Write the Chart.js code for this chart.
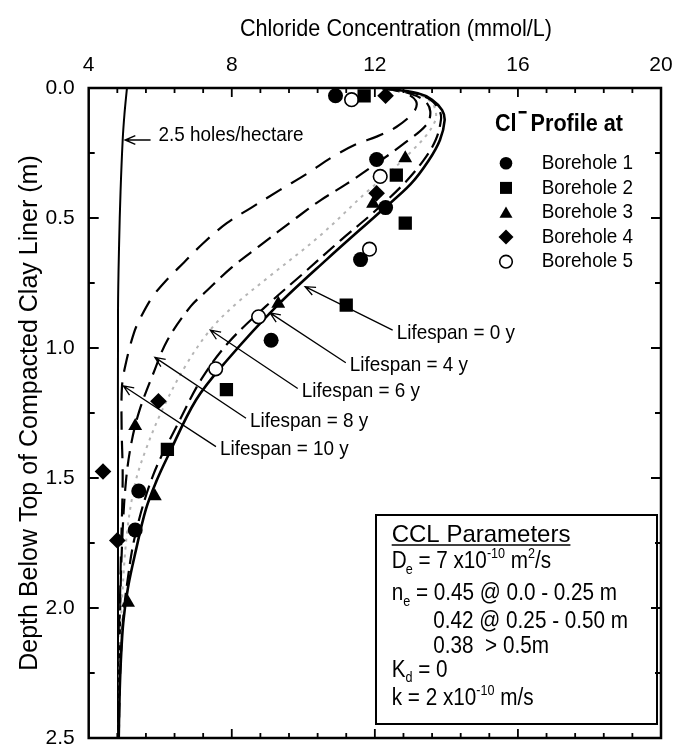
<!DOCTYPE html>
<html>
<head>
<meta charset="utf-8">
<script src="https://cdn.jsdelivr.net/npm/chart.js@4"></script>
<style>
  html, body { margin: 0; padding: 0; background: #fff; }
</style>
</head>
<body>
<canvas id="chart" width="675" height="750"></canvas>
<script>
// Chloride profiles below a compacted clay liner
// Measured values per borehole: [concentration mmol/L, depth m]
const borehole1 = [[10.9, 0.03], [12.05, 0.275], [12.3, 0.46], [11.6, 0.66], [9.1, 0.97], [5.4, 1.55], [5.3, 1.70]];
const borehole2 = [[11.7, 0.03], [12.6, 0.335], [12.85, 0.52], [11.2, 0.835], [7.85, 1.16], [6.2, 1.39]];
const borehole3 = [[12.85, 0.27], [11.95, 0.445], [9.3, 0.83], [5.3, 1.30], [5.85, 1.57], [5.1, 1.98]];
const borehole4 = [[12.3, 0.03], [12.05, 0.405], [5.95, 1.205], [4.4, 1.475], [4.8, 1.74]];
const borehole5 = [[11.35, 0.045], [12.15, 0.34], [11.85, 0.62], [8.75, 0.88], [7.55, 1.08]];

// Modelled profiles: [concentration mmol/L, depth m]
const lifespan0 = [[12.2, 0], [13.2, 0.02], [13.6, 0.045], [13.88, 0.085], [13.95, 0.125], [13.82, 0.2], [13.5, 0.28], [13.0, 0.37], [12.2, 0.47], [10.65, 0.66], [9.25, 0.84], [7.85, 1.05], [7.0, 1.2], [6.2, 1.42], [5.9, 1.51], [5.6, 1.62], [5.3, 1.79], [5.1, 1.92], [4.97, 2.05], [4.9, 2.2], [4.86, 2.35], [4.84, 2.5]];
const lifespan4 = [[12.2, 0], [13.1, 0.02], [13.55, 0.045], [13.8, 0.085], [13.85, 0.12], [13.7, 0.2], [13.35, 0.28], [12.8, 0.37], [11.95, 0.48], [11.05, 0.585], [9.9, 0.725], [8.95, 0.84], [7.9, 0.98], [7.15, 1.12], [6.5, 1.29], [5.8, 1.49], [5.3, 1.72], [5.06, 1.92], [4.96, 2.05], [4.88, 2.25], [4.84, 2.5]];
const lifespan6 = [[12.2, 0], [13.1, 0.02], [13.5, 0.045], [13.67, 0.075], [13.7, 0.12], [13.45, 0.18], [13.05, 0.24], [12.45, 0.32], [11.77, 0.4], [10.45, 0.57], [9.05, 0.725], [8.12, 0.83], [7.4, 0.93], [6.7, 1.07], [6.05, 1.24], [5.6, 1.39], [5.3, 1.52], [5.08, 1.7], [4.94, 1.95], [4.87, 2.2], [4.84, 2.5]];
const lifespan8 = [[12.2, 0], [12.95, 0.02], [13.4, 0.05], [13.55, 0.09], [13.45, 0.14], [12.8, 0.215], [12.05, 0.29], [11.2, 0.37], [10.5, 0.43], [9.8, 0.5], [8.75, 0.61], [8.0, 0.69], [7.3, 0.78], [6.85, 0.84], [6.2, 0.97], [5.8, 1.1], [5.42, 1.24], [5.2, 1.36], [5.05, 1.5], [4.95, 1.7], [4.88, 2.0], [4.84, 2.5]];
const lifespan10 = [[12.2, 0], [12.85, 0.02], [13.15, 0.05], [13.1, 0.09], [12.6, 0.15], [12.05, 0.187], [11.5, 0.215], [10.83, 0.264], [10.1, 0.33], [9.35, 0.392], [8.55, 0.46], [7.86, 0.52], [7.2, 0.597], [6.67, 0.67], [6.18, 0.738], [5.8, 0.8], [5.5, 0.87], [5.27, 0.94], [5.02, 1.07], [4.93, 1.15], [4.92, 1.3], [4.95, 1.5], [4.9, 1.8], [4.86, 2.1], [4.83, 2.5]];
const holes25 = [[5.07, 0], [5.0, 0.1], [4.95, 0.2], [4.89, 0.4], [4.85, 0.6], [4.82, 0.85], [4.82, 1.5], [4.82, 2.5]];

// Axis ticks
const xTicks = [4, 8, 12, 16, 20];
const yTicks = [0, 0.5, 1.0, 1.5, 2.0, 2.5];

// Curve labels: text, where text starts (conc, depth), where arrow points (conc, depth)
const curveLabels = [
  { text: 'Lifespan = 0 y', at: [12.61, 0.943], tip: [10.05, 0.764] },
  { text: 'Lifespan = 4 y', at: [11.30, 1.068], tip: [9.07, 0.865] },
  { text: 'Lifespan = 6 y', at: [9.955, 1.167], tip: [7.40, 0.931] },
  { text: 'Lifespan = 8 y', at: [8.51, 1.282], tip: [5.85, 1.036] },
  { text: 'Lifespan = 10 y', at: [7.67, 1.391], tip: [4.97, 1.146] },
];

const FONT = '"Liberation Sans", Arial, Helvetica, sans-serif';
const SQUEEZE = 0.9; // the source lettering is a bit narrow
Chart.defaults.font.family = FONT;
Chart.defaults.color = '#000';

const xy = arr => arr.map(([x, y]) => ({ x, y }));

const markerSets = [
  { label: 'Borehole 1', data: borehole1, style: 'circle', r: 7.5, fill: '#000' },
  { label: 'Borehole 2', data: borehole2, style: 'rect', r: 9.4, fill: '#000' },
  { label: 'Borehole 3', data: borehole3, style: 'triangle', r: 8, fill: '#000' },
  { label: 'Borehole 4', data: borehole4, style: 'rectRot', r: 8.3, fill: '#000' },
  { label: 'Borehole 5', data: borehole5, style: 'circle', r: 6.8, fill: '#fff' },
];

const lineSets = [
  { label: '0 y', data: lifespan0, width: 2.6, dash: [], color: '#000' },
  { label: '4 y', data: lifespan4, width: 2.2, dash: [15, 7], color: '#000' },
  { label: '6 y', data: lifespan6, width: 2, dash: [3, 5], color: '#b5b5b5' },
  { label: '8 y', data: lifespan8, width: 2.2, dash: [16, 8], color: '#000' },
  { label: '10 y', data: lifespan10, width: 2.2, dash: [18, 11], color: '#000' },
  { label: '2.5 holes/hectare', data: holes25, width: 2, dash: [], color: '#000' },
];

const datasets = [
  ...markerSets.map(m => ({
    label: m.label,
    data: xy(m.data),
    pointStyle: m.style,
    pointRadius: m.r,
    backgroundColor: m.fill,
    borderColor: '#000',
    borderWidth: m.fill === '#fff' ? 1.6 : 0,
    showLine: false,
    order: 0,
  })),
  ...lineSets.map(l => ({
    label: l.label,
    data: xy(l.data),
    showLine: true,
    pointRadius: 0,
    borderColor: l.color,
    borderWidth: l.width,
    borderDash: l.dash,
    tension: 0.35,
    fill: false,
    order: 1,
  })),
];

// small marker drawing for the legend
function marker(ctx, style, x, y, r, fill) {
  ctx.beginPath();
  if (style === 'circle') ctx.arc(x, y, r, 0, Math.PI * 2);
  else if (style === 'rect') ctx.rect(x - r * 0.707, y - r * 0.707, r * 1.414, r * 1.414);
  else if (style === 'triangle') {
    ctx.moveTo(x, y - r);
    ctx.lineTo(x + r * 0.866, y + r / 2);
    ctx.lineTo(x - r * 0.866, y + r / 2);
    ctx.closePath();
  } else if (style === 'rectRot') {
    ctx.moveTo(x, y - r); ctx.lineTo(x + r, y); ctx.lineTo(x, y + r); ctx.lineTo(x - r, y);
    ctx.closePath();
  }
  ctx.fillStyle = fill;
  ctx.fill();
  if (fill === '#fff') { ctx.lineWidth = 1.6; ctx.strokeStyle = '#000'; ctx.stroke(); }
}

// narrow text, returns drawn width
function say(ctx, str, x, y, size, bold, squeeze = SQUEEZE) {
  ctx.save();
  ctx.font = `${bold ? 'bold ' : ''}${size}px ${FONT}`;
  ctx.translate(x, y);
  ctx.scale(squeeze, 1);
  ctx.fillText(str, 0, 0);
  const w = ctx.measureText(str).width * squeeze;
  ctx.restore();
  return w;
}

// text with sub/superscripts
function rich(ctx, x, y, parts, size) {
  for (const p of parts) {
    const small = p.sub || p.sup;
    const dy = p.sub ? size * 0.25 : p.sup ? -size * 0.45 : 0;
    x += p.dx || 0;
    x += say(ctx, p.t, x, y + dy, small ? Math.round(size * 0.6) : size);
  }
}

function arrow(ctx, x0, y0, x1, y1) {
  ctx.beginPath();
  ctx.moveTo(x0, y0);
  ctx.lineTo(x1, y1);
  const a = Math.atan2(y1 - y0, x1 - x0), len = 11, spread = 0.4;
  ctx.moveTo(x1 - len * Math.cos(a - spread), y1 - len * Math.sin(a - spread));
  ctx.lineTo(x1, y1);
  ctx.lineTo(x1 - len * Math.cos(a + spread), y1 - len * Math.sin(a + spread));
  ctx.stroke();
}

const decor = {
  id: 'decor',
  afterDatasetsDraw(chart) {
    const { ctx, chartArea: a, scales: { x, y } } = chart;
    ctx.save();
    ctx.strokeStyle = '#000';
    ctx.fillStyle = '#000';

    // frame
    ctx.lineWidth = 2.5;
    ctx.strokeRect(a.left, a.top, a.right - a.left, a.bottom - a.top);

    // inward ticks
    ctx.lineWidth = 1.8;
    ctx.beginPath();
    for (let i = 1; i < 20; i++) {
      const px = x.getPixelForValue(4 + i * 0.8), len = i % 5 ? 5 : 9;
      ctx.moveTo(px, a.top); ctx.lineTo(px, a.top + len);
      ctx.moveTo(px, a.bottom); ctx.lineTo(px, a.bottom - len);
    }
    for (let i = 1; i < 10; i++) {
      const py = y.getPixelForValue(i * 0.25), len = i % 2 ? 6 : 10;
      ctx.moveTo(a.left, py); ctx.lineTo(a.left + len, py);
      ctx.moveTo(a.right, py); ctx.lineTo(a.right - len, py);
    }
    ctx.stroke();

    // x axis title (top)
    ctx.textAlign = 'center';
    ctx.textBaseline = 'middle';
    say(ctx, 'Chloride Concentration (mmol/L)', 396, 29, 24);

    // 2.5 holes/hectare label
    ctx.textAlign = 'left';
    ctx.lineWidth = 1.4;
    const hy = y.getPixelForValue(0.2);
    arrow(ctx, x.getPixelForValue(5.73), hy, x.getPixelForValue(5.02), hy);
    say(ctx, '2.5 holes/hectare', x.getPixelForValue(5.95), y.getPixelForValue(0.181), 21);

    // lifespan labels
    ctx.lineWidth = 1.3;
    curveLabels.forEach(l => {
      const tx = x.getPixelForValue(l.at[0]), ty = y.getPixelForValue(l.at[1]);
      arrow(ctx, tx - 4, ty - 3, x.getPixelForValue(l.tip[0]), y.getPixelForValue(l.tip[1]));
      say(ctx, l.text, tx, ty, 21);
    });

    // legend
    const clW = say(ctx, 'Cl', 495, 124, 24, true);
    ctx.fillRect(495 + clW + 2, 111, 8, 2.5);
    say(ctx, 'Profile at', 495 + clW + 14, 124, 24, true);
    markerSets.forEach((m, i) => {
      const ly = 163.3 + i * 24.6;
      const r = m.style === 'rect' ? 8.5 : m.style === 'rectRot' ? 7.5 : m.style === 'triangle' ? 7.5 : 6.3;
      marker(ctx, m.style, 506, m.style === 'triangle' ? ly + 1.5 : ly, r, m.fill);
      ctx.fillStyle = '#000';
      say(ctx, m.label, 541.7, ly, 21);
    });

    // parameter box
    ctx.lineWidth = 2;
    ctx.strokeRect(376, 515, 281, 209);
    ctx.textBaseline = 'alphabetic';
    const hw = say(ctx, 'CCL Parameters', 391.7, 541.7, 24, false, 1);
    ctx.lineWidth = 1.5;
    ctx.beginPath(); ctx.moveTo(391.7, 545); ctx.lineTo(391.7 + hw, 545); ctx.stroke();
    const fs = 23;
    rich(ctx, 391.7, 568.3, [{ t: 'D' }, { t: 'e', sub: true, dx: -1 }, { t: ' = 7 x10' }, { t: '-10', sup: true }, { t: ' m' }, { t: '2', sup: true }, { t: '/s' }], fs);
    rich(ctx, 391.7, 600, [{ t: 'n' }, { t: 'e', sub: true }, { t: ' = 0.45 @ 0.0 - 0.25 m' }], fs);
    rich(ctx, 433.3, 628.3, [{ t: '0.42 @ 0.25 - 0.50 m' }], fs);
    rich(ctx, 433.3, 653.3, [{ t: '0.38  > 0.5m' }], fs);
    rich(ctx, 391.7, 676.7, [{ t: 'K' }, { t: 'd', sub: true }, { t: ' = 0' }], fs);
    rich(ctx, 391.7, 705, [{ t: 'k = 2 x10' }, { t: '-10', sup: true }, { t: ' m/s' }], fs);

    ctx.restore();
  },
};

new Chart(document.getElementById('chart'), {
  type: 'scatter',
  data: { datasets },
  options: {
    responsive: false,
    animation: false,
    layout: { padding: { left: 0, top: 0, right: 14, bottom: 12 } },
    plugins: { legend: { display: false }, tooltip: { enabled: false } },
    scales: {
      x: {
        type: 'linear',
        position: 'top',
        min: 4,
        max: 20,
        afterBuildTicks: s => { s.ticks = xTicks.map(v => ({ value: v })); },
        ticks: { font: { size: 21 }, color: '#000', padding: 10, maxRotation: 0 },
        grid: { display: false, drawTicks: false },
        border: { display: false },
        afterFit: s => { s.height = 88; s.paddingLeft = 0; s.paddingRight = 0; },
      },
      y: {
        type: 'linear',
        reverse: true,
        min: 0,
        max: 2.5,
        afterBuildTicks: s => { s.ticks = yTicks.map(v => ({ value: v })); },
        ticks: { font: { size: 21 }, color: '#000', padding: 14, callback: v => v.toFixed(1) },
        grid: { display: false, drawTicks: false },
        border: { display: false },
        title: {
          display: true,
          text: 'Depth Below Top of Compacted Clay Liner (m)',
          font: { size: 25 },
          color: '#000',
          padding: { top: 15, bottom: 0 },
        },
        afterFit: s => { s.width = 88.7; s.paddingTop = 0; s.paddingBottom = 0; },
      },
    },
  },
  plugins: [decor],
});
</script>
</body>
</html>
